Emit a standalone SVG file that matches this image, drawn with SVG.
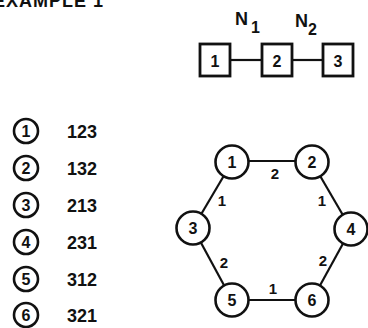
<svg xmlns="http://www.w3.org/2000/svg" width="368" height="328" viewBox="0 0 368 328">
<style>
.t{font-family:"Liberation Sans",Arial,sans-serif;font-weight:bold;fill:#111}
.c{fill:#fff;stroke:#111;stroke-width:2.6}
.b{fill:#fff;stroke:#111;stroke-width:2.8}
.l{stroke:#111;stroke-width:2.2;fill:none}
.n{font-size:16px;text-anchor:middle;dominant-baseline:central}
.e{font-size:15px;text-anchor:middle;dominant-baseline:central}
.v{font-size:18px}
</style>
<rect width="368" height="328" fill="#fff"/>
<text class="t" x="-7" y="7" font-size="18" letter-spacing="1">EXAMPLE 1</text>

<g id="connectors">
<line class="l" x1="231" y1="60" x2="261" y2="60"/>
<line class="l" x1="293" y1="60" x2="322" y2="60"/>
<line class="l" x1="232" y1="161" x2="312" y2="161"/>
<line class="l" x1="312" y1="162" x2="351" y2="229"/>
<line class="l" x1="351" y1="229" x2="312" y2="300"/>
<line class="l" x1="312" y1="300" x2="232" y2="300"/>
<line class="l" x1="232" y1="300" x2="193" y2="228"/>
<line class="l" x1="193" y1="228" x2="232" y2="162"/>
</g>

<g id="labelN1"><text class="t" x="235" y="25" font-size="18">N</text><text class="t" x="251" y="33" font-size="16">1</text></g>
<g id="labelN2"><text class="t" x="295" y="27" font-size="18">N</text><text class="t" x="308" y="35" font-size="16">2</text></g>

<g id="box1"><rect class="b" x="200" y="44" width="30" height="32"/><text class="t n" x="215" y="61" font-size="19">1</text></g>
<g id="box2"><rect class="b" x="262" y="44" width="30" height="32"/><text class="t n" x="277" y="61" font-size="19">2</text></g>
<g id="box3"><rect class="b" x="323" y="44" width="30" height="32"/><text class="t n" x="338" y="61" font-size="19">3</text></g>

<g id="list1"><circle class="c" cx="26" cy="131" r="12"/><text class="t n" x="26" y="131">1</text><text class="t v" x="67" y="138">123</text></g>
<g id="list2"><circle class="c" cx="26" cy="168" r="12"/><text class="t n" x="26" y="168">2</text><text class="t v" x="67" y="175">132</text></g>
<g id="list3"><circle class="c" cx="26" cy="205" r="12"/><text class="t n" x="26" y="205">3</text><text class="t v" x="67" y="212">213</text></g>
<g id="list4"><circle class="c" cx="26" cy="242" r="12"/><text class="t n" x="26" y="242">4</text><text class="t v" x="67" y="249">231</text></g>
<g id="list5"><circle class="c" cx="26" cy="279" r="12"/><text class="t n" x="26" y="279">5</text><text class="t v" x="67" y="286">312</text></g>
<g id="list6"><circle class="c" cx="26" cy="315" r="12"/><text class="t n" x="26" y="315">6</text><text class="t v" x="67" y="322">321</text></g>

<g id="hex1"><circle class="c" cx="232" cy="162" r="16.5"/><text class="t n" x="232" y="162">1</text></g>
<g id="hex2"><circle class="c" cx="312" cy="162" r="16.5"/><text class="t n" x="312" y="162">2</text></g>
<g id="hex3"><circle class="c" cx="193" cy="228" r="16.5"/><text class="t n" x="193" y="228">3</text></g>
<g id="hex4"><circle class="c" cx="351" cy="229" r="16.5"/><text class="t n" x="351" y="229">4</text></g>
<g id="hex5"><circle class="c" cx="232" cy="300" r="16.5"/><text class="t n" x="232" y="300">5</text></g>
<g id="hex6"><circle class="c" cx="312" cy="300" r="16.5"/><text class="t n" x="312" y="300">6</text></g>

<g id="edgeLabels">
<text class="t e" x="275" y="173">2</text>
<text class="t e" x="222" y="200">1</text>
<text class="t e" x="322" y="200">1</text>
<text class="t e" x="224" y="262">2</text>
<text class="t e" x="323" y="260">2</text>
<text class="t e" x="273" y="288">1</text>
</g>
</svg>
